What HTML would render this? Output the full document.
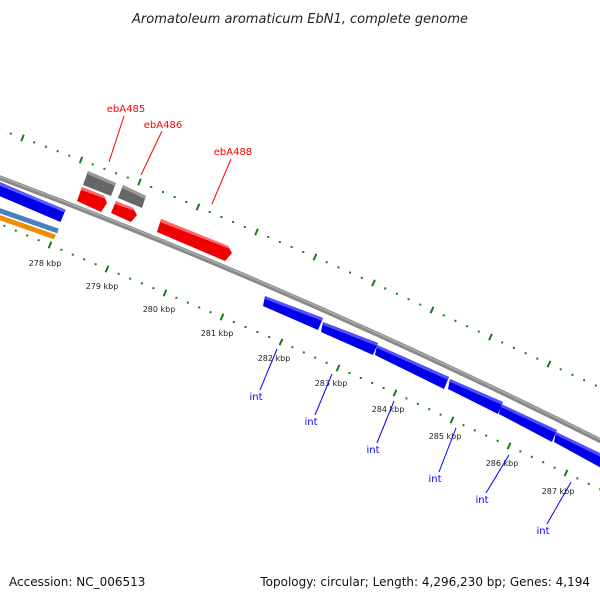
<!DOCTYPE html>
<html><head><meta charset="utf-8"><style>
html,body{margin:0;padding:0;background:#fff;}
svg{display:block;font-family:"DejaVu Sans","Liberation Sans",sans-serif;}
</style></head><body>
<svg id="s" width="600" height="600" viewBox="0 0 600 600">
<text x="300" y="23" text-anchor="middle" font-size="13" font-style="italic" fill="#222">Aromatoleum aromaticum EbN1, complete genome</text>
<path d="M -5 176 Q 300 290 605 443" stroke="#888" stroke-width="5" fill="none"/>
<path d="M -5 175 Q 300 289 605 442" stroke="#aaa" stroke-width="1.5" fill="none"/>
<g id="ticks" fill="#1a7a1a" stroke="#1a7a1a"></g>
<line x1="-5" y1="187" x2="63" y2="216" stroke="#0000e8" stroke-width="13"/>
<line x1="-5" y1="182" x2="65" y2="211" stroke="#5a5aff" stroke-width="3"/>
<line x1="-5" y1="209" x2="58" y2="231" stroke="#4a80c0" stroke-width="5"/>
<line x1="-5" y1="216" x2="55" y2="237" stroke="#f08c00" stroke-width="5"/>
<polygon points="88,171 116,183 111,196 83,185" fill="#666"/>
<polygon points="88,171 116,183 115,186 87,174" fill="#999"/>
<polygon points="123,185 146,196 142,208 118,198" fill="#666"/>
<polygon points="123,185 146,196 145,199 122,188" fill="#999"/>
<polygon points="82,187 104,196 107,203 101,212 77,201" fill="#e00"/>
<polygon points="82,187 104,196 106,199 81,190" fill="#f66"/>
<polygon points="116,201 133,208 137,215 131,222 111,213" fill="#e00"/>
<polygon points="116,201 133,208 135,211 115,204" fill="#f66"/>
<polygon points="161,219 228,246 232,253 225,261 157,232" fill="#e00"/>
<polygon points="161,219 228,246 230,249 160,222" fill="#f66"/>
<g stroke="#f00" stroke-width="1"><line x1="124" y1="116" x2="109" y2="162"/><line x1="162" y1="131" x2="141" y2="175"/><line x1="231" y1="159" x2="212" y2="204"/></g>
<g fill="#f00" font-size="10" text-anchor="middle"><text x="126" y="112">ebA485</text><text x="163" y="128">ebA486</text><text x="233" y="155">ebA488</text></g>
<g id="blue"></g>
<g font-size="8" fill="#222" text-anchor="middle" id="lbl"></g>
<g font-size="10" fill="#00f" text-anchor="middle" id="ints"></g>
<text x="9" y="586" font-size="12" fill="#111">Accession: NC_006513</text>
<text x="590" y="586" font-size="12" fill="#111" text-anchor="end">Topology: circular; Length: 4,296,230 bp; Genes: 4,194</text>
</svg>
<script>
var NS="http://www.w3.org/2000/svg";
function el(p,t,a,txt){var e=document.createElementNS(NS,t);for(var k in a)e.setAttribute(k,a[k]);if(txt)e.textContent=txt;p.appendChild(e);return e;}
var T=document.getElementById("ticks");
function ring(pts){
 for(var i=0;i<pts.length;i++){
  var p=pts[i];var q=pts[Math.min(i+1,pts.length-1)],r=pts[Math.max(i-1,0)];
  var dx=q[0]-r[0],dy=q[1]-r[1],L=Math.hypot(dx,dy);var nx=-dy/L,ny=dx/L;
  el(T,"line",{x1:p[0]-nx*3.5,y1:p[1]-ny*3.5,x2:p[0]+nx*3.5,y2:p[1]+ny*3.5,"stroke-width":2});
  if(i<pts.length-1){for(var j=1;j<5;j++){var x=p[0]+(q[0]-p[0])*j/5,y=p[1]+(q[1]-p[1])*j/5;el(T,"rect",{x:x-1,y:y-1,width:2,height:2,stroke:"none"});}}
 }
}
var inner=[[-7,221],[50,245],[107,269],[165,293],[222,317],[281,342],[338,368],[395,393],[452,420],[509,446],[566,473],[623,500]];
ring(inner);
var outer=[];var oy=[116,138,160,182,207,232,257,283,310,337,364,391];
for(var k=0;k<oy.length;k++)outer.push([-36+58.5*k,oy[k]]);
ring(outer);
var L=document.getElementById("lbl");
var lp=[[45,266,278],[102,289,279],[159,312,280],[217,336,281],[274,361,282],[331,386,283],[388,412,284],[445,439,285],[502,466,286],[558,494,287]];
lp.forEach(function(a){el(L,"text",{x:a[0],y:a[1]},a[2]+" kbp");});
var I=document.getElementById("ints");
var ip=[[256,400,277,349],[311,425,332,374],[373,453,394,401],[435,482,456,428],[482,503,509,455],[543,534,571,482]];
ip.forEach(function(a){el(I,"line",{x1:a[2],y1:a[3],x2:a[0]+4,y2:a[1]-10,stroke:"#00f","stroke-width":1});el(I,"text",{x:a[0],y:a[1]},"int");});
var B=document.getElementById("blue");
var bl=[[265,296,323,318],[323,322,378,343],[377,345,449,377],[450,379,503,402],[501,404,557,430],[556,432,610,458]];
bl.forEach(function(b){
 var x1=b[0],y1=b[1],x2=b[2],y2=b[3];
 el(B,"polygon",{points:x1+","+y1+" "+x2+","+y2+" "+(x2-5)+","+(y2+12)+" "+(x1-2)+","+(y1+10),fill:"#0000e8"});
 el(B,"polygon",{points:x1+","+y1+" "+x2+","+y2+" "+(x2-1)+","+(y2+3)+" "+x1+","+(y1+3),fill:"#5050ff"});
});
</script>
</body></html>
